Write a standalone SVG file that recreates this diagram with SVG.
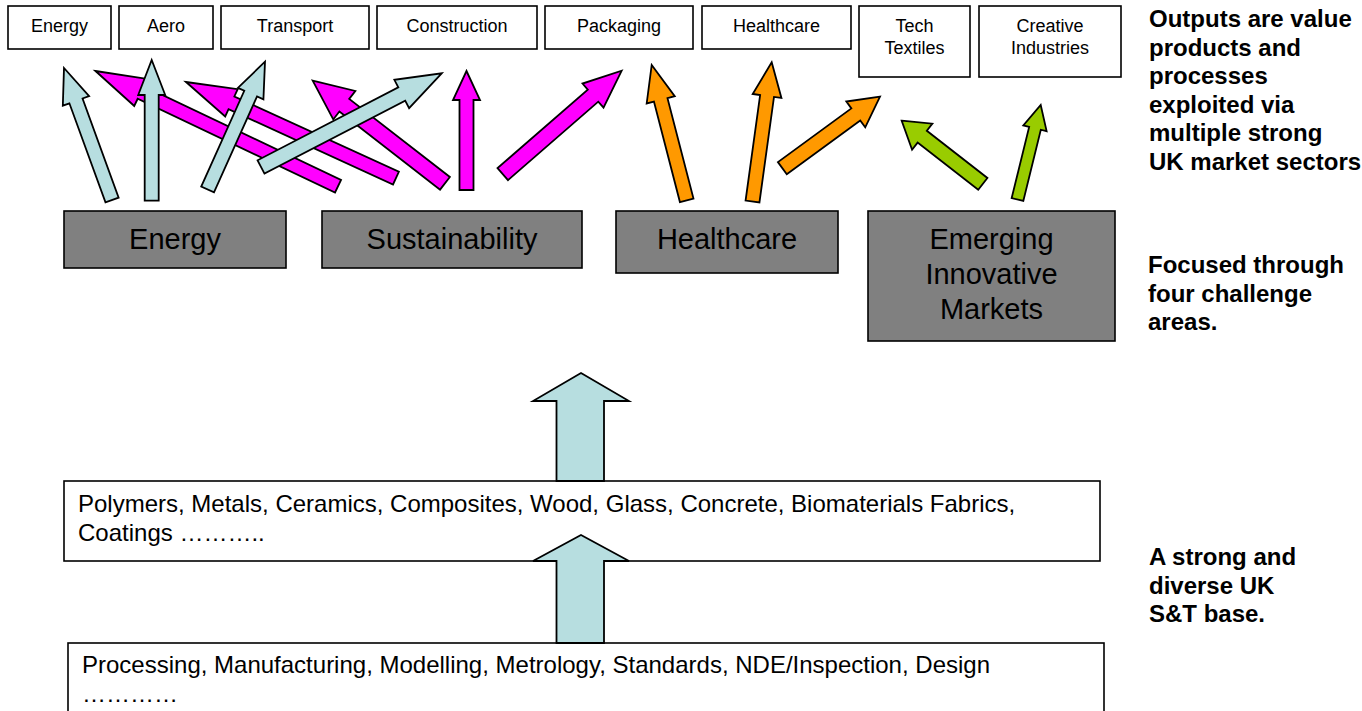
<svg xmlns="http://www.w3.org/2000/svg" width="1362" height="711" viewBox="0 0 1362 711">
  <style>
    .out rect { fill: #ffffff; stroke: #000000; stroke-width: 1.6; }
    .out text { font-family: "Liberation Sans", Arial, sans-serif; font-size: 18px; fill: #000000; text-anchor: middle; }
    .area rect { fill: #808080; stroke: #000000; stroke-width: 1.6; }
    .area text { font-family: "Liberation Sans", Arial, sans-serif; font-size: 29px; fill: #000000; text-anchor: middle; }
    .base rect { fill: #ffffff; stroke: #000000; stroke-width: 1.6; }
    .base text { font-family: "Liberation Sans", Arial, sans-serif; font-size: 24px; fill: #000000; }
    .note { font-family: "Liberation Sans", Arial, sans-serif; font-size: 24px; font-weight: bold; fill: #000000; }
    .arr { stroke: #000000; stroke-width: 1.8; stroke-linejoin: miter; }
    .blue { fill: #b7dee0; }
    .mag { fill: #ff00ff; }
    .org { fill: #ff9900; }
    .grn { fill: #99cc00; }
  </style>

  <!-- Market sector outputs -->
  <g id="out-energy" class="out"><rect x="8" y="6" width="103" height="43"/><text x="59.5" y="32">Energy</text></g>
  <g id="out-aero" class="out"><rect x="119" y="6" width="94" height="43"/><text x="166" y="32">Aero</text></g>
  <g id="out-transport" class="out"><rect x="221" y="6" width="148" height="43"/><text x="295" y="32">Transport</text></g>
  <g id="out-construction" class="out"><rect x="377" y="6" width="160" height="43"/><text x="457" y="32">Construction</text></g>
  <g id="out-packaging" class="out"><rect x="545" y="6" width="148" height="43"/><text x="619" y="32">Packaging</text></g>
  <g id="out-healthcare" class="out"><rect x="702" y="6" width="149" height="43"/><text x="776.5" y="32">Healthcare</text></g>
  <g id="out-textiles" class="out"><rect x="859" y="6" width="111" height="71"/><text x="914.5" y="32">Tech</text><text x="914.5" y="54">Textiles</text></g>
  <g id="out-creative" class="out"><rect x="979" y="6" width="142" height="71"/><text x="1050" y="32">Creative</text><text x="1050" y="54">Industries</text></g>

  <!-- Challenge areas -->
  <g id="area-energy" class="area"><rect x="64" y="211" width="222" height="57"/><text x="175" y="249">Energy</text></g>
  <g id="area-sustainability" class="area"><rect x="322" y="211" width="260" height="57"/><text x="452" y="249">Sustainability</text></g>
  <g id="area-healthcare" class="area"><rect x="616" y="211" width="222" height="62"/><text x="727" y="249">Healthcare</text></g>
  <g id="area-emerging" class="area"><rect x="868" y="211" width="247" height="130"/><text x="991.5" y="249">Emerging</text><text x="991.5" y="284">Innovative</text><text x="991.5" y="319">Markets</text></g>

  <!-- S&T base -->
  <g id="base-materials" class="base"><rect x="64" y="481" width="1036" height="80"/><text x="78" y="512">Polymers, Metals, Ceramics, Composites, Wood, Glass, Concrete, Biomaterials Fabrics,</text><text x="78" y="541">Coatings ………..</text></g>
  <g id="base-processes" class="base"><rect x="68" y="643" width="1036" height="80"/><text x="82" y="673">Processing, Manufacturing, Modelling, Metrology, Standards, NDE/Inspection, Design</text><text x="82" y="702">…………</text></g>

  <!-- Side notes -->
  <g id="note-outputs">
    <text class="note" x="1149" y="27">Outputs are value</text>
    <text class="note" x="1149" y="55.5">products and</text>
    <text class="note" x="1149" y="84">processes</text>
    <text class="note" x="1149" y="112.5">exploited via</text>
    <text class="note" x="1149" y="141">multiple strong</text>
    <text class="note" x="1149" y="169.5">UK market sectors</text>
  </g>
  <g id="note-areas">
    <text class="note" x="1148" y="273">Focused through</text>
    <text class="note" x="1148" y="301.5">four challenge</text>
    <text class="note" x="1148" y="330">areas.</text>
  </g>
  <g id="note-base">
    <text class="note" x="1149" y="565">A strong and</text>
    <text class="note" x="1149" y="593.5">diverse UK</text>
    <text class="note" x="1149" y="622">S&amp;T base.</text>
  </g>

  <!-- Connectors: block arrows, each drawn pointing up from its tip and rotated -->
  <g id="connectors">
    <!-- Sustainability -->
    <polygon class="arr mag" transform="translate(95.5,71) rotate(-64.6)" points="0,0 15,50 7,50 7,268.5 -7,268.5 -7,50 -15,50"/>
    <polygon class="arr mag" transform="translate(186,82) rotate(-65.4)" points="0,0 15,50 7,50 7,230.9 -7,230.9 -7,50 -15,50"/>
    <polygon class="arr mag" transform="translate(312.7,80.7) rotate(-52.2)" points="0,0 18,40 8,40 8,167.4 -8,167.4 -8,40 -18,40"/>
    <polygon class="arr mag" transform="translate(466.5,71)" points="0,0 13.5,29 7,29 7,119 -7,119 -7,29 -13.5,29"/>
    <polygon class="arr mag" transform="translate(621.7,70.7) rotate(49)" points="0,0 16,38 8,38 8,157.6 -8,157.6 -8,38 -16,38"/>
    <!-- Energy -->
    <polygon class="arr blue" transform="translate(64,68) rotate(-20)" points="0,0 14,35 7,35 7,140.5 -7,140.5 -7,35 -14,35"/>
    <polygon class="arr blue" transform="translate(151.7,60)" points="0,0 13.5,35 7,35 7,140.7 -7,140.7 -7,35 -13.5,35"/>
    <polygon class="arr blue" transform="translate(265,61.7) rotate(24.2)" points="0,0 14,35 7,35 7,140 -7,140 -7,35 -14,35"/>
    <polygon class="arr blue" transform="translate(441.7,73.3) rotate(62.6)" points="0,0 16,45 7.5,45 7.5,203.5 -7.5,203.5 -7.5,45 -16,45"/>
    <!-- Healthcare -->
    <polygon class="arr org" transform="translate(651.7,65) rotate(-14.5)" points="0,0 14.5,36 7,36 7,139.8 -7,139.8 -7,36 -14.5,36"/>
    <polygon class="arr org" transform="translate(771.7,62.3) rotate(7.85)" points="0,0 14.5,34 7,34 7,140.5 -7,140.5 -7,34 -14.5,34"/>
    <polygon class="arr org" transform="translate(880,96.7) rotate(53.8)" points="0,0 16,30 7.5,30 7.5,121 -7.5,121 -7.5,30 -16,30"/>
    <!-- Emerging innovative markets -->
    <polygon class="arr grn" transform="translate(901.7,120.7) rotate(-52.1)" points="0,0 16.5,26 7.5,26 7.5,102.8 -7.5,102.8 -7.5,26 -16.5,26"/>
    <polygon class="arr grn" transform="translate(1040.7,105) rotate(13.8)" points="0,0 12,24 6,24 6,97.3 -6,97.3 -6,24 -12,24"/>
    <!-- Base to challenge areas -->
    <polygon class="arr blue" points="581,373 629,401 604,401 604,481 556.5,481 556.5,401 533,401"/>
    <polygon class="arr blue" points="581,535 629,561 604,561 604,643 556.5,643 556.5,561 533,561"/>
  </g>
</svg>
